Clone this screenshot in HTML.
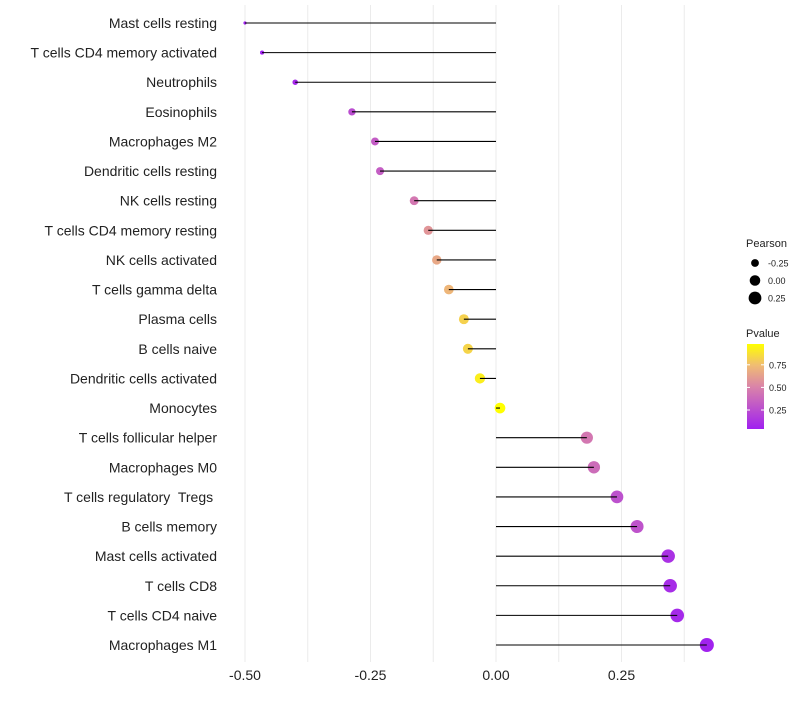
<!DOCTYPE html>
<html><head><meta charset="utf-8"><style>
body{margin:0;background:#fff;font-family:"Liberation Sans",sans-serif;}
svg text{font-family:"Liberation Sans",sans-serif;white-space:pre;}
</style></head><body>
<svg id="chart" width="800" height="700"></svg>
<script>
const categories=["Mast cells resting","T cells CD4 memory activated","Neutrophils","Eosinophils","Macrophages M2","Dendritic cells resting","NK cells resting","T cells CD4 memory resting","NK cells activated","T cells gamma delta","Plasma cells","B cells naive","Dendritic cells activated","Monocytes","T cells follicular helper","Macrophages M0","T cells regulatory  Tregs ","B cells memory","Mast cells activated","T cells CD8","T cells CD4 naive","Macrophages M1"];
const pearson=[-0.50,-0.466,-0.40,-0.287,-0.241,-0.231,-0.163,-0.135,-0.118,-0.094,-0.064,-0.056,-0.032,0.008,0.181,0.195,0.241,0.281,0.343,0.347,0.361,0.42];
const pvalue=[0.02,0.04,0.08,0.25,0.32,0.33,0.45,0.58,0.66,0.72,0.82,0.83,0.92,0.98,0.45,0.40,0.27,0.28,0.12,0.10,0.08,0.05];
const xTicks=[-0.5,-0.25,0,0.25];
const xTickLabels=["-0.50","-0.25","0.00","0.25"];
const sizeLegend=[-0.25,0,0.25];
const sizeLegendLabels=["-0.25","0.00","0.25"];
const colorTicks=[0.25,0.5,0.75];
const colorTickLabels=["0.25","0.50","0.75"];

const NS="http://www.w3.org/2000/svg";
const svg=document.getElementById('chart');
function mk(t,a,p){const e=document.createElementNS(NS,t);for(const k in a)e.setAttribute(k,a[k]);(p||svg).appendChild(e);return e;}
const x=v=>496+v*502;
const y=i=>23+i*(622/21);
const r=v=>Math.sqrt(Math.max(1.5,28+51*v));
const stops=[[0,[160,32,240]],[0.5,[218,132,168]],[0.75,[240,188,115]],[1,[255,255,0]]];
function col(p){let t=(p-0.04)/(0.98-0.04);t=Math.max(0,Math.min(1,t));
 for(let i=1;i<stops.length;i++){if(t<=stops[i][0]){const a=stops[i-1],b=stops[i];const f=(t-a[0])/(b[0]-a[0]);
 return 'rgb('+a[1].map((c,j)=>Math.round(c+(b[1][j]-c)*f)).join(',')+')';}}return 'rgb(255,255,0)';}

const grid=mk('g',{});

for(let v=-0.5;v<=0.45;v+=0.125){mk('line',{x1:x(v),x2:x(v),y1:5,y2:662,stroke:'#ebebeb','stroke-width':1},grid);}
xTicks.forEach((v,i)=>{const t=mk('text',{x:x(v),y:680,'text-anchor':'middle','font-size':14,fill:'#222'});t.textContent=xTickLabels[i];
});
categories.forEach((c,i)=>{
 const lab=mk('text',{x:217,y:y(i)+5,'text-anchor':'end','font-size':14,fill:'#222','xml:space':'preserve'});lab.textContent=c;
 
 const pt=mk('circle',{cx:x(pearson[i]),cy:y(i),r:r(pearson[i]),fill:col(pvalue[i])});
 
 const ln=mk('line',{x1:x(0),x2:x(pearson[i]),y1:y(i),y2:y(i),stroke:'#000','stroke-width':1.1});
 
});
const lg=mk('g',{});
let tt=mk('text',{x:746,y:247,'font-size':11,fill:'#222'},lg);tt.textContent='Pearson';
sizeLegend.forEach((v,i)=>{const yy=263+i*17.5;mk('circle',{cx:755,cy:yy,r:r(v),fill:'#000'},lg);
 const t=mk('text',{x:768,y:yy+3.5,'font-size':9,fill:'#222'},lg);t.textContent=sizeLegendLabels[i];});
const cg=mk('g',{});
tt=mk('text',{x:746,y:337,'font-size':11,fill:'#222'},cg);tt.textContent='Pvalue';
const defs=mk('defs',{});const gr=mk('linearGradient',{id:'pg',x1:0,y1:1,x2:0,y2:0},defs);
stops.forEach(s=>mk('stop',{offset:s[0],'stop-color':'rgb('+s[1].join(',')+')'},gr));
mk('rect',{x:747,y:344,width:17,height:85,fill:'url(#pg)'},cg);
const cy=p=>429-(p-0.04)/(0.98-0.04)*85;
colorTicks.forEach((p,i)=>{mk('line',{x1:747,x2:750,y1:cy(p),y2:cy(p),stroke:'#fff'},cg);mk('line',{x1:761,x2:764,y1:cy(p),y2:cy(p),stroke:'#fff'},cg);
 const t=mk('text',{x:769,y:cy(p)+3.5,'font-size':9,fill:'#222'},cg);t.textContent=colorTickLabels[i];});
</script>
</body></html>
